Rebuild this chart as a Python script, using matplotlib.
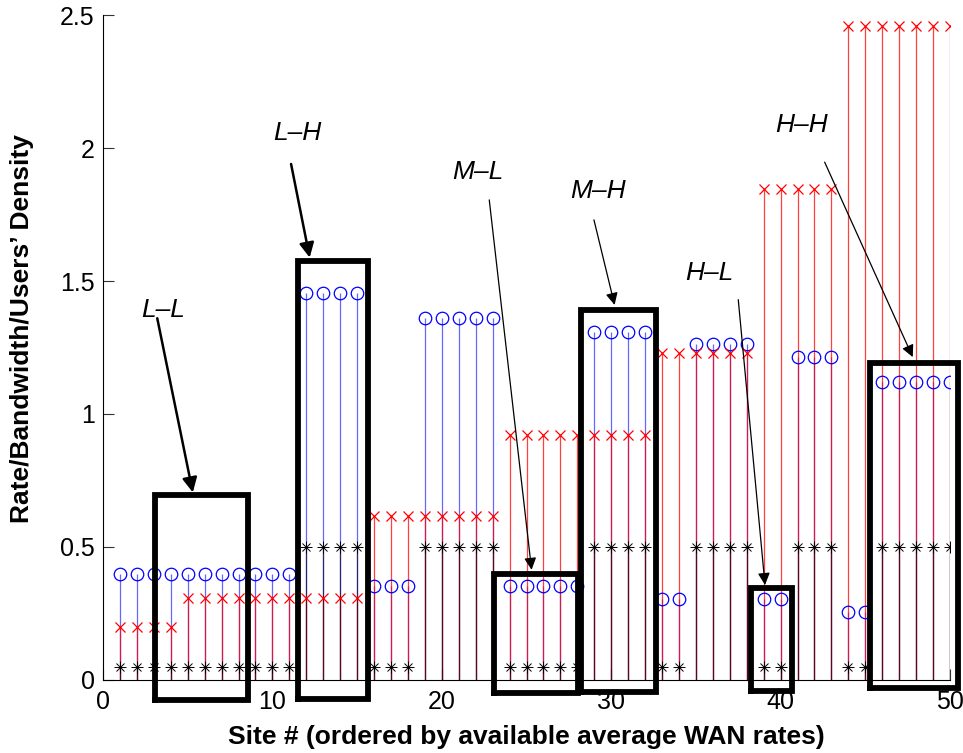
import numpy as np
import matplotlib
matplotlib.use("Agg")
import matplotlib.pyplot as plt

plt.rcParams['font.family'] = ['Liberation Sans', 'DejaVu Sans']

sites = np.arange(1, 51)

# users' density (blue circles)
density = ([0.40] * 11 + [1.455] * 4 + [0.355] * 3 + [1.36] * 5 + [0.355] * 5 +
           [1.31] * 4 + [0.305] * 2 + [1.265] * 4 + [0.305] * 2 + [1.215] * 3 +
           [0.255] * 2 + [1.12] * 5)
# rate (red x)
rate = ([0.20] * 4 + [0.31] * 11 + [0.615] * 8 + [0.92] * 9 + [1.23] * 6 +
        [1.845] * 5 + [2.46] * 7)
# bandwidth (black *)
bandwidth = ([0.05] * 11 + [0.5] * 4 + [0.05] * 3 + [0.5] * 5 + [0.05] * 5 +
             [0.5] * 4 + [0.05] * 2 + [0.5] * 4 + [0.05] * 2 + [0.5] * 3 +
             [0.05] * 2 + [0.5] * 5)

# group boxes: label, (x0, x1, y0, y1), text pos, arrow start, arrow end, arrow width
groups = ["L\u2013L", "L\u2013H", "M\u2013L", "M\u2013H", "H\u2013L", "H\u2013H"]
boxes = [(3.05, 8.55, -0.075, 0.695),
         (11.5, 15.65, -0.07, 1.575),
         (23.1, 28.05, -0.05, 0.40),
         (28.2, 32.65, -0.045, 1.39),
         (38.25, 40.65, -0.04, 0.345),
         (45.3, 50.45, -0.03, 1.19)]
label_pos = [(3.55, 1.39), (11.45, 2.055), (22.1, 1.91), (29.2, 1.84),
             (35.8, 1.53), (41.25, 2.085)]
arrow_from = [(3.2, 1.36), (11.1, 1.94), (22.8, 1.805), (28.98, 1.73),
              (37.5, 1.43), (42.6, 1.947)]
arrow_to = [(5.3, 0.705), (12.2, 1.588), (25.3, 0.414), (30.2, 1.41),
            (39.08, 0.357), (47.8, 1.214)]
arrow_lw = [1.8, 1.8, 0.9, 0.9, 0.9, 0.9]

fig = plt.figure(figsize=(9.63, 7.53), dpi=100)
ax = fig.add_axes([0.107, 0.097, 0.8795, 0.883])

ax.vlines(sites, 0, density, color='blue', lw=0.9, alpha=0.6, zorder=2)
ax.vlines(sites, 0, rate, color='red', lw=0.9, alpha=0.75, zorder=2)
ax.vlines(sites, 0, bandwidth, color='black', lw=0.9, alpha=0.6, zorder=2)
ax.plot(sites, density, 'o', mfc='none', mec='blue', ms=9, mew=0.9, zorder=3)
ax.plot(sites, rate, 'x', color='red', ms=7, mew=0.9, zorder=3)
# MATLAB-like asterisk: + and x overlaid
ax.plot(sites, bandwidth, '+', color='black', ms=8, mew=0.7, zorder=3)
ax.plot(sites, bandwidth, 'x', color='black', ms=6, mew=0.7, zorder=3)

for name, b, lp, a0, a1, lw in zip(groups, boxes, label_pos, arrow_from, arrow_to, arrow_lw):
    x0, x1, y0, y1 = b
    ax.plot([x0, x1, x1, x0, x0], [y0, y0, y1, y1, y0], color='black', lw=4.2,
            solid_joinstyle='miter', clip_on=False, zorder=5)
    ax.text(lp[0], lp[1], name, fontsize=19, style='italic', ha='center', va='center')
    ax.annotate('', xy=a1, xytext=a0,
                arrowprops=dict(arrowstyle='-|>', color='black', lw=lw,
                                mutation_scale=22 if lw > 1 else 18, shrinkA=0, shrinkB=0),
                zorder=6)

ax.set_xlim(0, 50)
ax.set_ylim(0, 2.5)
ax.set_xticks([0, 10, 20, 30, 40, 50])
ax.set_yticks([0, 0.5, 1, 1.5, 2, 2.5])
ax.set_yticklabels(['0', '0.5', '1', '1.5', '2', '2.5'])
ax.tick_params(direction='in', labelsize=18, length=8, width=0.8, colors='#333333',
               labelcolor='black')
ax.tick_params(axis='x', pad=7)
ax.tick_params(axis='y', pad=6)
for s in ['top', 'right']:
    ax.spines[s].set_visible(False)
for s in ['left', 'bottom']:
    ax.spines[s].set_linewidth(0.8)
ax.set_xlabel('Site # (ordered by available average WAN rates)', fontsize=19,
              fontweight='bold')
ax.set_ylabel("Rate/Bandwidth/Users\u2019 Density", fontsize=19, fontweight='bold')
ax.xaxis.set_label_coords(0.5, -0.068)
ax.yaxis.set_label_coords(-0.082, 0.529)

fig.savefig('out.png', dpi=100)
